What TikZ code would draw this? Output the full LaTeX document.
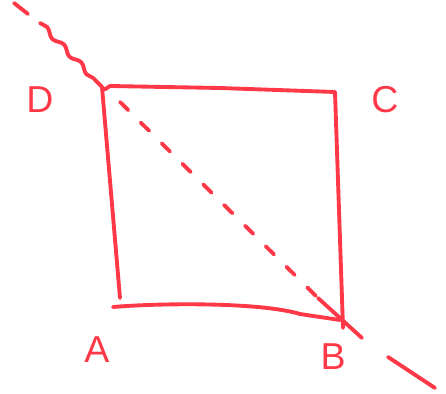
\documentclass[tikz,border=0pt]{standalone}
\usepackage{fontspec}
\setsansfont{Liberation Sans}
\usetikzlibrary{decorations.pathmorphing}
\definecolor{pen}{RGB}{255,56,72}
\tikzset{ink/.style={draw=pen,line width=3.3pt,line cap=round,line join=round},
	lbl/.style={text=pen,font=\fontsize{32}{34}\selectfont\sffamily}}

\begin{document}
\begin{tikzpicture}[x=0.03cm,y=-0.03cm]
	\useasboundingbox (0,0) rectangle (446,394);
	% corners of the square
	\coordinate (D) at (102,87);
	\coordinate (C) at (335,92);
	\coordinate (B) at (343,328);
	\coordinate (A) at (120,298);
	\coordinate (A2) at (113,307);
	\coordinate (B2) at (340,320);
	% sides
	\draw[ink] (D) -- (A);
	\draw[ink] (D) .. controls (104,92) and (106,88) .. (110,86) -- (220,88) -- (C);
	\draw[ink] (C) -- (B);
	\draw[ink] (A2) .. controls (160,303) and (260,302) .. (300,314) -- (B2);
	% the diagonal line
	\coordinate (far1) at (14,3);
	\coordinate (far2) at (28,14);
	\coordinate (w1) at (40,23);
	\coordinate (in1) at (120,102);
	\coordinate (in2) at (318,298);
	\coordinate (in3) at (362,338);
	\coordinate (far3) at (388,357);
	\coordinate (far4) at (435,388);
	\draw[ink] (far1) -- (far2);
	\draw[ink,decorate,decoration={snake,amplitude=2pt,segment length=21pt}] (w1) -- (D);
	\draw[ink,dash pattern=on 10pt off 15pt] (in1) -- (in2);
	\draw[ink] (in2) -- (in3);
	\draw[ink] (far3) -- (far4);
	% labels
	\node[lbl] (labD) at (40,100) {D};
	\node[lbl] (labC) at (385,100) {C};
	\node[lbl] (labA) at (97,350) {A};
	\node[lbl] (labB) at (333,357) {B};
\end{tikzpicture}
\end{document}
